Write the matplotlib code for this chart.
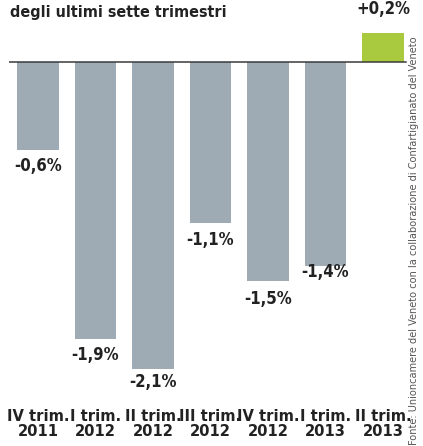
import matplotlib.pyplot as plt

# Data
labels = ['IV trim.\n2011', 'I trim.\n2012', 'II trim.\n2012', 'III trim.\n2012',
          'IV trim.\n2012', 'I trim.\n2013', 'II trim.\n2013']
values = [-0.6, -1.9, -2.1, -1.1, -1.5, -1.4, 0.2]
value_text = ['-0,6%', '-1,9%', '-2,1%', '-1,1%', '-1,5%', '-1,4%', '+0,2%']

grey = '#9eabb4'
green = '#a9c93e'
narrow = dict(family='DejaVu Sans', fontstretch='condensed', fontweight='bold')

fig = plt.figure(figsize=(4.23, 4.46), dpi=100)
ax = fig.add_axes([0.0219, 0.108, 0.9515, 0.8675])

colors = [green if v > 0 else grey for v in values]
x = list(range(len(values)))
ax.bar(x, values, width=0.73, color=colors, zorder=2)
ax.axhline(0, color='#3a3a3a', lw=1.1, zorder=3, xmin=0.0, xmax=0.985)

ax.set_xlim(-0.5, 6.5)
ax.set_ylim(-2.3, 0.35)

# value labels
offsets = [-0.11, -0.11, -0.09, -0.12, -0.12, -0.04, 0.04]
for xi, v, t, off in zip(x, values, value_text, offsets):
    if v > 0:
        ax.text(xi, v + 0.1, t, ha='center', va='bottom', fontsize=12,
                color='#222222', **narrow)
    else:
        ax.text(xi, v + off, t, ha='center', va='center', fontsize=12,
                color='#222222', **narrow)

ax.set_xticks(x)
ax.set_xticklabels(labels, fontsize=11.8, color='#222222', linespacing=1.0,
                   **narrow)
ax.tick_params(axis='x', length=0, pad=8)
ax.set_yticks([])
for s in ax.spines.values():
    s.set_visible(False)

fig.text(0.024, 0.962, 'degli ultimi sette trimestri', ha='left', va='baseline',
         fontsize=11.5, color='#222222', **narrow)

fig.text(0.979, 0.46,
         'Fonte: Unioncamere del Veneto con la collaborazione di Confartigianato del Veneto',
         rotation=90, ha='center', va='center', fontsize=7.8, color='#555555',
         family='DejaVu Sans', fontstretch='condensed')

fig.savefig('out.png', dpi=100)
